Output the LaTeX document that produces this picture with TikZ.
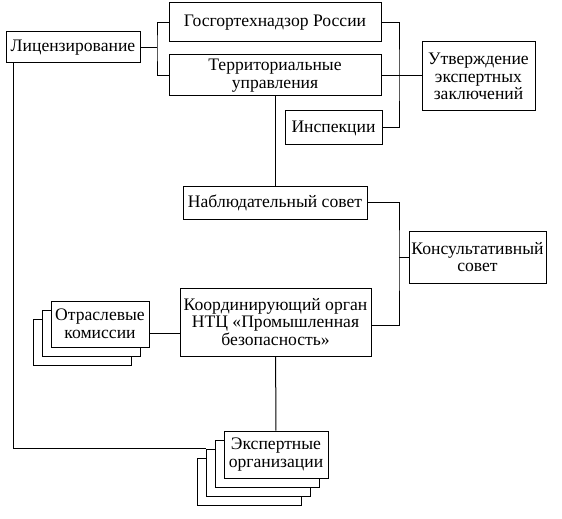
\documentclass[tikz,border=0pt]{standalone}
\usepackage{fontspec}
\setmainfont{Liberation Serif}
\usetikzlibrary{calc}

\begin{document}
\begin{tikzpicture}[x=0.5pt, y=-0.5pt, line width=0.5pt,
  box/.style={draw, fill=white, inner sep=0pt, align=center, font=\fontsize{8.8}{8.9}\selectfont}]
  \useasboundingbox (0,0) rectangle (562,519);
  \node[box, minimum width=67pt, minimum height=15.5pt] (lic) at (73,47.5) {Лицензирование};
  \node[box, minimum width=106pt, minimum height=19.5pt] (gos) at (275,22.5) {Госгортехнадзор России};
  \node[box, minimum width=106pt, minimum height=20.5pt] (terr) at (275,75.5) {Территориальные\\управления};
  \node[box, minimum width=48.5pt, minimum height=17pt] (insp) at (333.5,128) {Инспекции};
  \node[box, minimum width=56.5pt, minimum height=34.5pt] (utv) at (478.5,76.5) {Утверждение\\экспертных\\заключений};
  \node[box, minimum width=92pt, minimum height=16.5pt] (nabl) at (275,202.5) {Наблюдательный совет};
  \node[box, minimum width=68.5pt, minimum height=26pt] (kons) at (477.5,257) {Консультативный\\совет};
  \node[box, minimum width=95.5pt, minimum height=34pt] (koord) at (275.5,322) {Координирующий орган\\НТЦ «Промышленная\\безопасность»};
  \foreach \i/\s in {2/18, 1/9}
    \node[box, minimum width=49pt, minimum height=23pt] (otr\i) at (100-\s,324+\s) {};
  \node[box, minimum width=49pt, minimum height=23pt] (otr) at (100,324) {Отраслевые\\комиссии};
  \foreach \i/\s in {3/27, 2/18, 1/9}
    \node[box, minimum width=52pt, minimum height=23.5pt] (eks\i) at (276-\s,454.5+\s) {};
  \node[box, minimum width=52pt, minimum height=23.5pt] (eks) at (276,454.5) {Экспертные\\организации};

  \coordinate (j1) at (157,47.5);
  \coordinate (j2) at (399,75.5);
  \coordinate (j3) at (399,257);
  \draw (lic) -- (j1);
  \draw (gos.west) -| (j1) |- (terr.west);
  \draw (gos.east) -| (j2) |- (insp.east);
  \draw (terr.east) -- (terr.east -| utv.west);
  \draw (terr) -- (nabl);
  \draw (nabl.east) -| (j3) |- ([yshift=-1.5pt]koord.east);
  \draw (j3) -- (kons.west);
  \draw ([yshift=-4.5pt]otr.east) -- ([yshift=-4.5pt]otr.east -| koord.west);
  \draw (koord) -- (eks);
  \draw ([xshift=4pt]lic.south west) |- (eks2.north west);
\end{tikzpicture}
\end{document}
